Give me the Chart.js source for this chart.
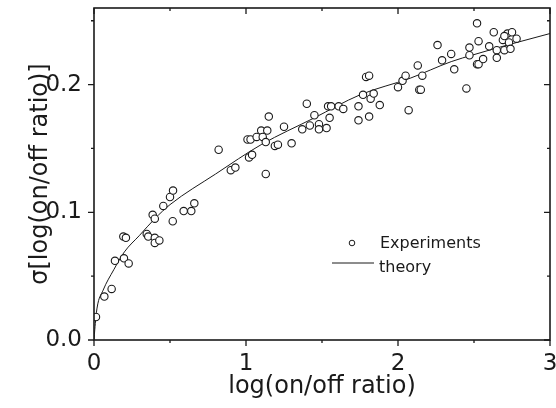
<!DOCTYPE html>
<html>
<head>
<meta charset="utf-8">
<script src="https://cdn.jsdelivr.net/npm/chart.js@4.4.1/dist/chart.umd.min.js"></script>
<style>
  html, body { margin: 0; padding: 0; background: #fff; }
  #wrap { width: 556px; height: 408px; }
</style>
</head>
<body>
<div id="wrap"><canvas id="sigma_chart"></canvas></div>
<script>
// valores
const expX = [
  0.013, 0.068, 0.116, 0.138, 0.197, 0.228, 0.193, 0.21, 0.347, 0.357,
  0.40, 0.40, 0.43, 0.386, 0.40, 0.456, 0.518, 0.50, 0.52, 0.59,
  0.64, 0.66, 0.82, 0.90, 0.93, 1.01, 1.03, 1.02, 1.04, 1.07,
  1.10, 1.11, 1.14, 1.15, 1.13, 1.13, 1.19, 1.21, 1.25, 1.30,
  1.37, 1.40, 1.42, 1.45, 1.48, 1.48, 1.53, 1.55, 1.54, 1.56,
  1.61, 1.64, 1.74, 1.74, 1.77, 1.81, 1.79, 1.81, 1.82, 1.84,
  1.88, 2.07, 2.00, 2.03, 2.05, 2.13, 2.14, 2.15, 2.16, 2.26,
  2.29, 2.35, 2.37, 2.45, 2.47, 2.47, 2.52, 2.53, 2.52, 2.53,
  2.56, 2.60, 2.63, 2.65, 2.65, 2.69, 2.70, 2.72, 2.73, 2.74,
  2.75, 2.78, 2.70
];
const expY = [
  0.018, 0.034, 0.040, 0.062, 0.064, 0.060, 0.081, 0.080, 0.083, 0.081,
  0.080, 0.076, 0.078, 0.098, 0.095, 0.105, 0.093, 0.112, 0.117, 0.101,
  0.101, 0.107, 0.149, 0.133, 0.135, 0.157, 0.157, 0.143, 0.145, 0.159,
  0.164, 0.159, 0.164, 0.175, 0.155, 0.130, 0.152, 0.153, 0.167, 0.154,
  0.165, 0.185, 0.168, 0.176, 0.169, 0.165, 0.166, 0.174, 0.183, 0.183,
  0.183, 0.181, 0.183, 0.172, 0.192, 0.175, 0.206, 0.207, 0.189, 0.193,
  0.184, 0.180, 0.198, 0.203, 0.207, 0.215, 0.196, 0.196, 0.207, 0.231,
  0.219, 0.224, 0.212, 0.197, 0.229, 0.223, 0.248, 0.234, 0.216, 0.216,
  0.220, 0.230, 0.241, 0.227, 0.221, 0.235, 0.227, 0.240, 0.233, 0.228,
  0.241, 0.236, 0.238
];
const theoryX = [0, 0.005, 0.02, 0.06, 0.13, 0.2, 0.3, 0.4, 0.5, 0.8, 1.1, 1.45, 1.75, 2.08, 2.35, 2.5, 2.75, 3.0];
const theoryY = [0, 0.008, 0.025, 0.039, 0.055, 0.069, 0.082, 0.095, 0.106, 0.130, 0.153, 0.174, 0.192, 0.205, 0.218, 0.2235, 0.232, 0.240];

const xMajor = [0, 1, 2, 3];
const xMinor = [0.5, 1.5, 2.5];
const yMajor = [0, 0.1, 0.2];
const yMinor = [0.05, 0.15, 0.25];

const legendNames = ['Experiments', 'theory'];

const FONT = '"DejaVu Sans", sans-serif';
const INK = '#1a1a1a';

// moldura estilo Origin + tiques maiores/menores
const framePlugin = {
  id: 'frame',
  afterDraw(chart) {
    const { ctx, chartArea: a, scales } = chart;
    ctx.save();
    ctx.strokeStyle = INK;
    ctx.lineWidth = 1.6;
    ctx.strokeRect(a.left, a.top, a.right - a.left, a.bottom - a.top);
    ctx.lineWidth = 1.3;
    ctx.beginPath();
    const tickX = (vals, len) => vals.forEach(v => {
      const px = scales.x.getPixelForValue(v);
      ctx.moveTo(px, a.bottom); ctx.lineTo(px, a.bottom + len);
      ctx.moveTo(px, a.top); ctx.lineTo(px, a.top + len);
    });
    const tickY = (vals, len) => vals.forEach(v => {
      const py = scales.y.getPixelForValue(v);
      ctx.moveTo(a.left, py); ctx.lineTo(a.left - len, py);
      ctx.moveTo(a.right, py); ctx.lineTo(a.right - len, py);
    });
    tickX(xMajor, 6); tickX(xMinor, 3);
    tickY(yMajor, 6); tickY(yMinor, 3);
    ctx.stroke();
    ctx.restore();
  }
};

// legenda dentro da área do gráfico
const insideLegend = {
  id: 'insideLegend',
  afterDraw(chart) {
    const { ctx, chartArea: a } = chart;
    const x0 = a.left + 238;
    const y0 = a.top + 235;
    ctx.save();
    ctx.strokeStyle = INK;
    ctx.fillStyle = '#fff';
    ctx.lineWidth = 1;
    ctx.beginPath();
    ctx.arc(x0 + 20, y0, 2.8, 0, Math.PI * 2);
    ctx.fill(); ctx.stroke();
    ctx.beginPath();
    ctx.moveTo(x0, y0 + 20); ctx.lineTo(x0 + 42, y0 + 20);
    ctx.stroke();
    ctx.fillStyle = INK;
    ctx.font = '16px ' + FONT;
    ctx.textBaseline = 'alphabetic';
    ctx.fillText(legendNames[0], x0 + 48, y0 + 4.5);
    ctx.fillText(legendNames[1], x0 + 47, y0 + 28.5);
    ctx.restore();
  }
};

document.addEventListener('DOMContentLoaded', () => {
  const ctx = document.getElementById('sigma_chart');

  new Chart(ctx, {
    type: 'scatter',
    data: {
      datasets: [
        {
          label: legendNames[0],
          data: expX.map((x, i) => ({ x: x, y: expY[i] })),
          pointStyle: 'circle',
          pointRadius: 3.7,
          pointBorderWidth: 1.1,
          pointBackgroundColor: '#fff',
          pointBorderColor: INK,
          showLine: false,
        },
        {
          label: legendNames[1],
          data: theoryX.map((x, i) => ({ x: x, y: theoryY[i] })),
          showLine: true,
          pointRadius: 0,
          borderColor: INK,
          borderWidth: 1,
          cubicInterpolationMode: 'monotone',
          fill: false,
        },
      ],
    },
    options: {
      responsive: true,
      maintainAspectRatio: false,
      animation: false,
      layout: { padding: { top: 8, right: 6, left: 0, bottom: 0 } },
      scales: {
        x: {
          type: 'linear',
          min: 0,
          max: 3,
          afterFit: (s) => { s.height = 68; s.paddingLeft = 0; s.paddingRight = 0; },
          grid: { display: false, drawTicks: false },
          border: { display: false },
          ticks: {
            stepSize: 1,
            includeBounds: false,
            padding: 10,
            color: INK,
            font: { family: FONT, size: 23 },
            maxRotation: 0,
          },
          title: {
            display: true,
            text: 'log(on/off ratio)',
            color: INK,
            font: { family: FONT, size: 24 },
            padding: { top: 0, bottom: 7 },
          },
        },
        y: {
          type: 'linear',
          min: 0,
          max: 0.26,
          afterFit: (s) => { s.width = 94; s.paddingTop = 0; s.paddingBottom = 0; },
          grid: { display: false, drawTicks: false },
          border: { display: false },
          ticks: {
            stepSize: 0.1,
            includeBounds: false,
            padding: 12,
            color: INK,
            font: { family: FONT, size: 23 },
            callback: (v) => v.toFixed(1),
          },
          title: {
            display: true,
            text: 'σ[log(on/off ratio)]',
            color: INK,
            font: { family: FONT, size: 24 },
            padding: { top: 26, bottom: 0 },
          },
        },
      },
      plugins: {
        legend: { display: false },
        tooltip: { enabled: false },
      },
    },
    plugins: [framePlugin, insideLegend],
  });
});
</script>
</body>
</html>
